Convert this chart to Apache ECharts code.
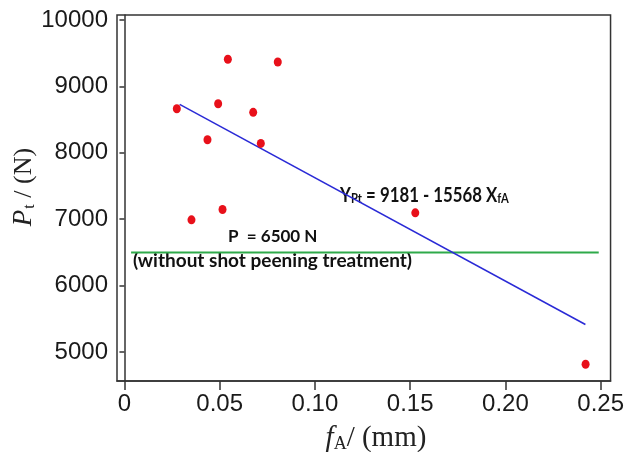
<!DOCTYPE html>
<html>
<head>
<meta charset="utf-8">
<script src="https://cdn.jsdelivr.net/npm/echarts@6/dist/echarts.min.js"></script>
<style>
  html, body { margin: 0; padding: 0; background: #fff; }
  #chart { width: 627px; height: 452px; }
</style>
</head>
<body>
<div id="chart"></div>
<script>
// Measured samples: amplitude fA (mm) against load Pt (N)
const fA = [0.0275, 0.0543, 0.0805, 0.0492, 0.0676, 0.0436, 0.0716, 0.0352, 0.0515, 0.1527, 0.2421];
const Pt = [8663, 9408, 9367, 8738, 8609, 8196, 8141, 6990, 7146, 7095, 4815];

// Linear fit  Y = 9181 - 15568 X, drawn over the sampled span
const fitIntercept = 9181;
const fitSlope = -15568;
const fitSpan = [0.029, 0.242];

// Reference level without shot peening
const baseLoad = 6500;
const baseSpan = [0.0035, 0.249];

// Axis ticks
const xTicks = [0, 0.05, 0.10, 0.15, 0.20, 0.25];
const yTicks = [5000, 6000, 7000, 8000, 9000, 10000];

const points = fA.map((x, i) => [x, Pt[i]]);
const fitLine = fitSpan.map(x => [x, fitIntercept + fitSlope * x]);
const baseLine = baseSpan.map(x => [x, baseLoad]);

const axisColor = '#333';
const tickFont = { fontFamily: 'Liberation Sans, Arial, sans-serif', fontSize: 24, color: '#1a1a1a' };

const chart = echarts.init(document.getElementById('chart'));
chart.setOption({
  animation: false,
  backgroundColor: '#fff',
  grid: {
    left: 117, right: 16, top: 15, bottom: 71,
    show: true, borderColor: axisColor, borderWidth: 1.5,
    backgroundColor: 'transparent'
  },
  xAxis: {
    type: 'value',
    min: -0.0039, max: 0.2552,
    splitLine: { show: false },
    axisLine: { show: true, lineStyle: { color: axisColor, width: 1.5 } },
    axisTick: { show: true, length: 9, customValues: xTicks, lineStyle: { color: axisColor, width: 1.5 } },
    axisLabel: Object.assign({
      margin: 11,
      customValues: xTicks,
      formatter: v => (v === 0 ? '0' : v.toFixed(2))
    }, tickFont)
  },
  yAxis: {
    type: 'value',
    min: 4563, max: 10075,
    splitLine: { show: false },
    axisLine: { show: true, lineStyle: { color: axisColor, width: 1.5 } },
    axisTick: { show: true, length: 5, customValues: yTicks, lineStyle: { color: axisColor, width: 1.5 } },
    axisLabel: Object.assign({
      margin: 9,
      customValues: yTicks,
      formatter: v => String(v)
    }, tickFont)
  },
  series: [
    {
      type: 'line',
      data: baseLine,
      symbol: 'none',
      lineStyle: { color: '#2faa4a', width: 2 },
      z: 2
    },
    {
      type: 'line',
      data: fitLine,
      symbol: 'none',
      lineStyle: { color: '#2a2ad6', width: 1.5 },
      z: 3
    },
    {
      type: 'scatter',
      data: points,
      symbol: 'circle',
      symbolSize: [8, 9],
      itemStyle: { color: '#e8101a', opacity: 1 },
      z: 4
    }
  ],
  graphic: [
    {
      type: 'text',
      x: 24, y: 187,
      rotation: Math.PI / 2,
      style: {
        text: '{p|P}{t|t}{r| / (N)}',
        align: 'center',
        verticalAlign: 'middle',
        fill: '#222',
        rich: {
          p: { fontFamily: 'Liberation Serif', fontStyle: 'italic', fontSize: 27, fill: '#222' },
          t: { fontFamily: 'Liberation Serif', fontSize: 16, fill: '#222', padding: [12, 0, 0, 1] },
          r: { fontFamily: 'Liberation Serif', fontSize: 26, fill: '#222' }
        }
      }
    },
    {
      type: 'text',
      x: 376, y: 438,
      style: {
        text: '{f|f}{a|A}{r|/ (mm)}',
        align: 'center',
        verticalAlign: 'middle',
        fill: '#222',
        rich: {
          f: { fontFamily: 'Liberation Serif', fontStyle: 'italic', fontSize: 29, fill: '#222' },
          a: { fontFamily: 'Liberation Serif', fontSize: 18, fill: '#222', padding: [12, 0, 0, 0] },
          r: { fontFamily: 'Liberation Serif', fontSize: 29, fill: '#222' }
        }
      }
    },
    {
      type: 'text',
      x: 340, y: 195,
      scaleX: 0.8,
      style: {
        text: '{b|Y}{s|Pt}{b| = 9181 - 15568 X}{s|fA}',
        verticalAlign: 'middle',
        fill: '#111',
        rich: {
          b: { fontFamily: 'Lato', fontWeight: 'bold', fontSize: 21, fill: '#111' },
          s: { fontFamily: 'Lato', fontWeight: 'bold', fontSize: 14, fill: '#111', padding: [7, 0, 0, 0] }
        }
      }
    },
    {
      type: 'text',
      x: 228, y: 237,
      style: {
        text: 'P  = 6500 N',
        verticalAlign: 'middle',
        fill: '#111',
        fontFamily: 'Lato', fontWeight: 'bold', fontSize: 17
      }
    },
    {
      type: 'text',
      x: 133, y: 261,
      style: {
        text: '(without shot peening treatment)',
        verticalAlign: 'middle',
        fill: '#111',
        fontFamily: 'Lato', fontWeight: 'bold', fontSize: 19
      }
    }
  ]
});
</script>
</body>
</html>
